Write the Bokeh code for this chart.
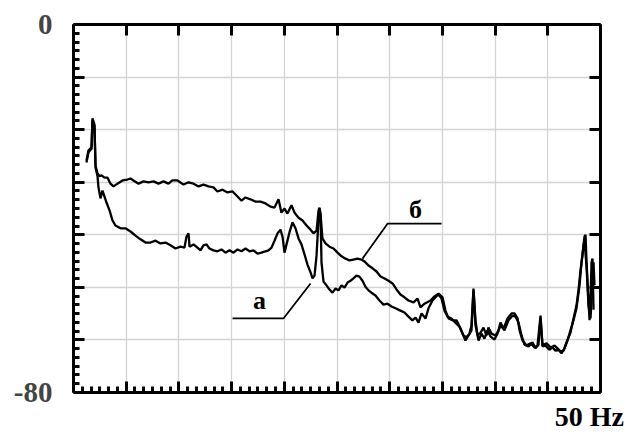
from bokeh.plotting import figure
from bokeh.models import Range1d, LinearAxis, FixedTicker, CustomJSTickFormatter
from bokeh.embed import file_html
from bokeh.resources import INLINE
from bokeh.core.properties import value

# Spectrum "а" (frequency in Hz, level in dB)
freq_a = [1.23, 1.42, 1.71, 1.80, 1.99, 2.09, 2.28, 2.37, 2.56, 2.75, 2.94, 3.13, 3.42, 3.70, 3.98,
          4.46, 4.93, 5.41, 5.88, 6.36, 6.83, 7.31, 7.78, 8.25, 8.73, 9.20, 9.68, 10.15, 10.53, 10.72,
          10.91, 11.01, 11.39, 11.76, 12.05, 12.33, 12.62, 12.90, 13.28, 13.66, 14.04, 14.42, 14.80,
          15.18, 15.56, 15.94, 16.32, 16.70, 17.08, 17.46, 17.84, 18.22, 18.50, 18.79, 19.07, 19.36,
          19.64, 19.83, 20.02, 20.21, 20.49, 20.78, 21.06, 21.35, 21.63, 21.92, 22.20, 22.49, 22.68,
          22.87, 23.06, 23.25, 23.34, 23.44, 23.53, 23.72, 24.00, 24.29, 24.57, 24.86, 25.14, 25.43,
          25.71, 26.00, 26.28, 26.56, 26.85, 27.13, 27.42, 27.70, 27.99, 28.27, 28.65, 29.03, 29.41,
          29.79, 30.17, 30.55, 31.02, 31.40, 31.78, 32.16, 32.45, 32.73, 33.02, 33.40, 33.68, 34.06,
          34.35, 34.63, 34.92, 35.20, 35.48, 35.86, 36.24, 36.62, 36.91, 37.19, 37.48, 37.76, 37.95,
          38.14, 38.43, 38.71, 38.99, 39.28, 39.56, 39.94, 40.23, 40.51, 40.89, 41.27, 41.65, 41.94,
          42.22, 42.51, 42.79, 43.17, 43.55, 43.83, 44.12, 44.31, 44.50, 44.78, 45.16, 45.45, 45.73,
          46.02, 46.30, 46.59, 46.87, 47.15, 47.44, 47.72, 48.01, 48.20, 48.39, 48.48, 48.67, 48.86,
          49.05, 49.15, 49.24, 49.34, 49.43]
level_a = [-30.0, -27.8, -27.0, -20.9, -22.2, -31.1, -33.0, -35.4, -37.8, -36.1, -37.4, -38.7, -40.4,
           -42.6, -43.7, -44.3, -44.3, -45.0, -45.9, -46.7, -47.4, -47.4, -47.0, -47.6, -47.4, -48.0,
           -48.7, -48.3, -48.5, -46.1, -45.4, -48.3, -47.8, -48.5, -49.1, -48.0, -47.8, -48.7, -49.1,
           -49.3, -48.9, -49.6, -49.1, -49.6, -48.9, -49.3, -48.7, -49.3, -49.1, -49.8, -49.6, -49.3,
           -49.1, -48.5, -47.0, -45.4, -44.6, -46.1, -49.6, -47.8, -45.2, -43.0, -44.3, -46.5, -47.8,
           -50.0, -52.2, -53.9, -55.2, -54.6, -50.2, -42.2, -40.0, -41.5, -51.7, -55.9, -56.7, -57.6,
           -58.3, -57.4, -57.8, -56.7, -57.2, -56.1, -55.7, -55.2, -54.6, -54.8, -55.7, -57.0, -57.8,
           -58.3, -58.9, -60.0, -60.9, -60.7, -61.3, -61.7, -62.2, -62.6, -63.5, -64.3, -63.7, -64.8,
           -62.8, -63.9, -61.7, -60.0, -59.3, -58.7, -59.6, -62.2, -63.5, -63.9, -64.8, -65.7, -67.2,
           -68.7, -67.6, -66.5, -57.8, -65.4, -68.7, -67.2, -68.3, -66.5, -67.8, -68.5, -67.2, -65.4,
           -66.5, -64.3, -63.3, -63.5, -64.8, -67.6, -69.6, -70.0, -69.1, -70.4, -69.6, -63.9, -70.0,
           -69.8, -70.7, -70.2, -70.9, -70.7, -71.5, -70.4, -68.7, -66.5, -64.3, -61.7, -56.7, -51.7,
           -48.0, -47.0, -52.4, -61.1, -63.9, -60.0, -53.5, -51.7, -56.7]

# Spectrum "б"
freq_b = [1.23, 1.42, 1.71, 1.80, 1.99, 2.09, 2.28, 2.47, 2.66, 2.94, 3.23, 3.51, 3.80, 4.17, 4.65,
          5.12, 5.41, 5.69, 6.17, 6.64, 7.12, 7.59, 8.06, 8.54, 9.01, 9.39, 9.87, 10.44, 10.91, 11.39,
          11.86, 12.33, 12.81, 13.28, 13.66, 14.14, 14.61, 15.09, 15.56, 15.94, 16.32, 16.79, 17.27,
          17.74, 18.22, 18.69, 19.07, 19.45, 19.73, 20.02, 20.30, 20.68, 20.97, 21.35, 21.73, 22.11,
          22.49, 22.77, 23.06, 23.25, 23.34, 23.44, 23.62, 23.91, 24.29, 24.67, 25.05, 25.43, 25.81,
          26.19, 26.56, 26.94, 27.32, 27.61, 27.99, 28.37, 28.75, 29.13, 29.51, 29.89, 30.27, 30.65,
          31.02, 31.40, 31.78, 32.26, 32.64, 32.92, 33.30, 33.87, 34.25, 34.63, 35.01, 35.29, 35.58,
          35.96, 36.34, 36.72, 37.00, 37.29, 37.57, 37.76, 37.95, 38.14, 38.33, 38.62, 38.90, 39.18,
          39.37, 39.66, 40.04, 40.32, 40.51, 40.80, 41.18, 41.56, 41.84, 42.13, 42.32, 42.60, 42.98,
          43.36, 43.74, 44.02, 44.31, 44.50, 44.88, 45.26, 45.64, 45.92, 46.21, 46.49, 46.77, 47.15,
          47.44, 47.72, 47.91, 48.10, 48.29, 48.48, 48.58, 48.67, 48.86, 48.96, 49.05, 49.15, 49.24,
          49.34]
level_b = [-29.6, -27.4, -26.7, -20.4, -21.7, -30.7, -32.4, -33.0, -32.8, -33.3, -33.3, -34.6, -35.2,
           -34.6, -33.9, -33.7, -33.5, -33.9, -34.6, -34.1, -34.3, -34.1, -34.6, -34.1, -34.6, -33.9,
           -33.9, -34.8, -34.3, -34.6, -35.2, -34.8, -35.2, -35.4, -36.3, -35.9, -36.5, -36.3, -37.4,
           -38.3, -37.6, -38.0, -38.5, -38.5, -38.9, -39.6, -39.8, -38.0, -40.9, -40.0, -41.1, -39.3,
           -40.9, -42.0, -42.6, -43.7, -44.6, -45.4, -44.8, -40.4, -39.8, -41.3, -46.5, -47.6, -48.3,
           -48.7, -49.6, -50.4, -50.9, -51.3, -51.1, -50.9, -51.1, -51.5, -52.4, -53.0, -53.7, -54.8,
           -55.2, -55.7, -56.3, -57.6, -58.7, -59.3, -60.0, -60.4, -59.6, -61.5, -60.7, -60.0, -59.1,
           -58.5, -59.3, -62.2, -63.9, -64.3, -64.3, -66.1, -67.6, -68.0, -67.2, -65.4, -57.4, -64.3,
           -67.6, -67.0, -65.9, -67.6, -65.9, -67.2, -67.6, -66.5, -64.8, -66.1, -63.9, -62.8, -62.8,
           -63.9, -66.5, -68.7, -69.8, -69.3, -70.2, -69.8, -63.3, -69.8, -69.3, -70.2, -69.8, -70.4,
           -71.1, -70.9, -69.1, -67.0, -63.9, -61.1, -57.8, -53.5, -50.2, -46.1, -45.7, -51.3, -60.0,
           -64.3, -60.0, -51.7, -50.9, -62.0]

# Callout labels and their leader lines
label_text = ["а", "б"]
label_x = [17.65, 32.45]
label_y = [-60.0, -40.2]
leader_a_x = [15.09, 19.92, 22.49]
leader_a_y = [-63.9, -63.9, -56.3]
leader_b_x = [34.92, 29.79, 27.42]
leader_b_y = [-43.3, -43.3, -50.9]

# Axis ticks: 5 Hz majors with 6 minor steps, 7 level divisions with 6 minor steps
x_major = [5.0 * k for k in range(11)]
x_minor = [5.0 * k / 6 for k in range(61) if k % 6]
y_major = [-80 + 80.0 * k / 7 for k in range(8)]
y_minor = [-80 + 80.0 * k / 42 for k in range(43) if k % 6]

# frequency-axis caption, set slightly left of the 50 Hz end so it stays on the canvas
x_caption = "50 Hz"
x_caption_at = [48.95]

FONT = "Liberation Serif"

p = figure(width=628, height=434, x_range=Range1d(0, 50), y_range=Range1d(-80, 0),
           output_backend="svg", toolbar_location=None,
           min_border_left=73, min_border_right=28, min_border_top=24, min_border_bottom=42)
p.outline_line_color = None
p.background_fill_color = "white"
p.border_fill_color = "white"

blank = CustomJSTickFormatter(code="return '';")

# bottom axis
bx = p.xaxis[0]
bx.ticker = FixedTicker(ticks=x_major, minor_ticks=x_minor)
bx.formatter = blank
bx.major_label_text_font_size = "0px"
bx.major_label_standoff = 0

# left axis
ly = p.yaxis[0]
ly.ticker = FixedTicker(ticks=y_major, minor_ticks=y_minor)
ly.formatter = CustomJSTickFormatter(
    code="if (Math.abs(tick) < 1e-6) return '0'; if (Math.abs(tick + 80) < 1e-6) return '-80'; return '';")
ly.major_label_text_font = FONT
ly.major_label_text_font_style = "bold"
ly.major_label_text_font_size = "29px"
ly.major_label_standoff = 21
ly.major_label_orientation = "horizontal"

top = LinearAxis(ticker=FixedTicker(ticks=x_major, minor_ticks=[]), formatter=blank,
                 major_label_text_font_size="0px", major_label_standoff=0)
right = LinearAxis(ticker=FixedTicker(ticks=y_major, minor_ticks=[]), formatter=blank,
                   major_label_text_font_size="0px", major_label_standoff=0)
p.add_layout(top, "above")
p.add_layout(right, "right")

for ax in (bx, ly, top, right):
    ax.axis_line_width = 3
    ax.axis_line_color = "black"
    ax.major_tick_in = 11
    ax.major_tick_out = 0
    ax.major_tick_line_width = 3
    ax.minor_tick_in = 6
    ax.minor_tick_out = 0
    ax.minor_tick_line_width = 3

# caption axis below the frame: no line, no ticks, only the "50 Hz" text
cap = LinearAxis(ticker=FixedTicker(ticks=x_caption_at, minor_ticks=[]),
                 major_label_overrides={x_caption_at[0]: x_caption},
                 axis_line_color=None, major_tick_line_color=None, minor_tick_line_color=None,
                 major_tick_in=0, major_tick_out=0, minor_tick_in=0, minor_tick_out=0,
                 major_label_standoff=8, major_label_text_font=FONT,
                 major_label_text_font_style="bold", major_label_text_font_size="28px",
                 major_label_text_color="black")
p.add_layout(cap, "below")

p.xgrid.grid_line_color = "#d4d4d4"
p.ygrid.grid_line_color = "#d4d4d4"
p.xgrid.grid_line_width = 1.3
p.ygrid.grid_line_width = 1.3

p.line(freq_a, level_a, line_color="black", line_width=2.3)
p.line(freq_b, level_b, line_color="black", line_width=2.3)

p.line(leader_a_x, leader_a_y, line_color="black", line_width=1.8)
p.line(leader_b_x, leader_b_y, line_color="black", line_width=1.8)

p.text(x=label_x, y=label_y, text=label_text, text_font=value(FONT), text_font_style="bold",
       text_font_size="26px", text_align="center", text_baseline="middle", text_color="black")

open("out.html", "w").write(file_html(p, INLINE))
